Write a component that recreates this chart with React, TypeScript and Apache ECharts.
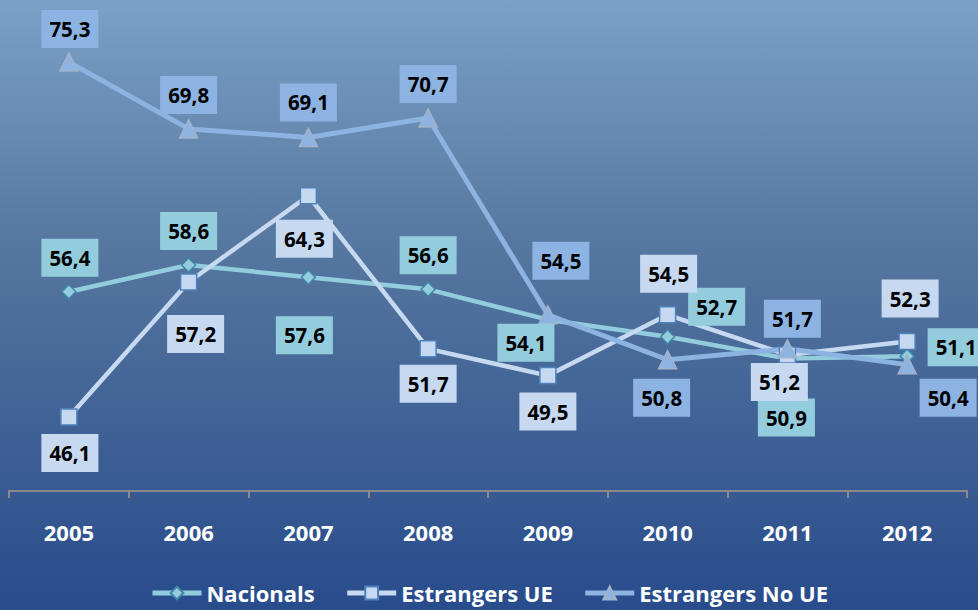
import React, { useEffect, useRef } from "react";
import * as echarts from "echarts";

const years = ["2005", "2006", "2007", "2008", "2009", "2010", "2011", "2012"];
const nacionals = [56.4, 58.6, 57.6, 56.6, 54.1, 52.7, 50.9, 51.1];
const estrangersUE = [46.1, 57.2, 64.3, 51.7, 49.5, 54.5, 51.2, 52.3];
const estrangersNoUE = [75.3, 69.8, 69.1, 70.7, 54.5, 50.8, 51.7, 50.4];

// label offsets (px) relative to each point, as placed in the reference
const nacOffsets = [[1, -34], [0, -34], [-4, 58], [0, -34], [-22, 23], [49, -30], [-1, 59], [49, -9]];
const ueOffsets = [[1, 36], [7, 52], [-4, 43], [0, 35], [0, 36], [1, -41], [-8, 27], [3, -43]];
const noUeOffsets = [[1, -33], [0, -34], [0, -35], [0, -34], [13, -54], [-6, 38], [5, -30], [41, 33]];

const fmt = (v: number) => v.toFixed(1).replace(".", ",");

const FONT = "'Open Sans', 'DejaVu Sans', sans-serif";

function makeSeries(
  name: string,
  values: number[],
  offsets: number[][],
  lineColor: string,
  lineWidth: number,
  symbol: string,
  symbolSize: number | number[],
  borderColor: string,
  labelBg: string
) {
  return {
    name,
    type: "line",
    data: values.map((v, i) => ({
      value: v,
      label: { offset: offsets[i] },
    })),
    symbol,
    symbolSize,
    showAllSymbol: true,
    lineStyle: { color: lineColor, width: lineWidth },
    itemStyle: { color: lineColor, borderColor, borderWidth: 1.5 },
    label: {
      show: true,
      position: "inside",
      formatter: (p: any) => fmt(p.value),
      color: "#000",
      fontFamily: FONT,
      fontWeight: "bold",
      fontSize: 20.5,
      lineHeight: 20,
      backgroundColor: labelBg,
      padding: [9, 8, 9, 8],
      align: "center",
      verticalAlign: "middle",
    },
    emphasis: { disabled: true },
  };
}

export default function App() {
  const ref = useRef<HTMLDivElement>(null);
  useEffect(() => {
    if (!ref.current) return;
    const chart = echarts.init(ref.current, undefined, { renderer: "svg" });
    chart.setOption({
      animation: false,
      backgroundColor: "transparent",
      grid: { left: 9, right: 11, top: 5, bottom: 119, containLabel: false },
      legend: {
        bottom: 1,
        left: "center",
        itemWidth: 49,
        itemHeight: 16,
        itemGap: 30,
        lineStyle: { width: 5 },
        textStyle: {
          color: "#ffffff",
          fontFamily: FONT,
          fontWeight: "bold",
          fontSize: 22,
        },
        data: ["Nacionals", "Estrangers UE", "Estrangers No UE"],
      },
      xAxis: {
        type: "category",
        data: years,
        boundaryGap: true,
        axisLine: { show: true, lineStyle: { color: "#8a8a8a", width: 2 } },
        axisTick: { show: true, length: 7, lineStyle: { color: "#8a8a8a", width: 2 } },
        axisLabel: {
          color: "#ffffff",
          fontFamily: FONT,
          fontWeight: "bold",
          fontSize: 22,
          margin: 30,
        },
        splitLine: { show: false },
      },
      yAxis: {
        type: "value",
        min: 40,
        max: 80,
        show: false,
        splitLine: { show: false },
      },
      series: [
        makeSeries("Nacionals", nacionals, nacOffsets, "#93cddd", 4.5, "diamond", 14, "#3f86a8", "#93cddd"),
        makeSeries("Estrangers UE", estrangersUE, ueOffsets, "#c6d9f1", 4.5, "rect", 16, "#4f81bd", "#c6d9f1"),
        makeSeries("Estrangers No UE", estrangersNoUE, noUeOffsets, "#8db3e2", 5, "triangle", 18, "#a3b3c9", "#8db3e2"),
      ],
    });
    return () => chart.dispose();
  }, []);
  return (
    <div
      style={{
        position: "fixed",
        left: 0,
        top: 0,
        width: 978,
        height: 610,
        background: "linear-gradient(to bottom, #7aa1c7 0%, #56779f 40%, #284c8c 100%)",
      }}
    >
      <div ref={ref} style={{ width: 978, height: 610 }} />
    </div>
  );
}
